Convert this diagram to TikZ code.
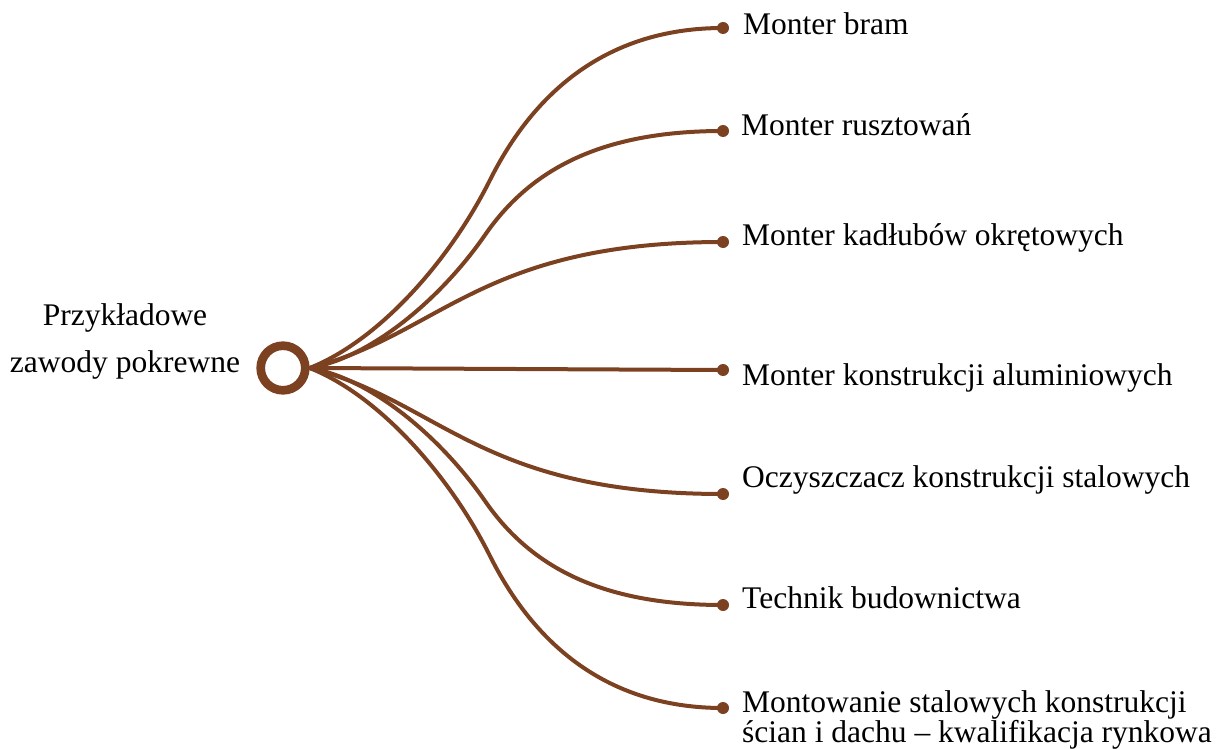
\documentclass[tikz,border=0pt]{standalone}
\usepackage{fontspec}
\setmainfont{Liberation Serif}
\definecolor{rust}{RGB}{123,65,32}

\begin{document}
\begin{tikzpicture}[x=1pt, y=-1pt,
    hub/.style = {draw=rust, circle, line width=8.7pt, minimum size=44.6pt, inner sep=0pt},
    tip/.style = {fill=rust, circle, minimum size=12pt, inner sep=0pt},
    job/.style = {anchor=base west, inner sep=0pt, align=left, font=\fontsize{31.5}{30}\selectfont},
    link/.style = {draw=rust, line width=4pt}]
        \useasboundingbox (0,0) rectangle (1221,749);

        \node[hub] (H) at (283,368) {};
        \node[anchor=base, align=center, inner sep=0pt, font=\fontsize{31.5}{47}\selectfont] (zaw) at (125,372) {Przykładowe\\zawody pokrewne};

        \node[tip] (T1) at (723,28) {};
        \node[tip] (T2) at (723,131) {};
        \node[tip] (T3) at (723,242) {};
        \node[tip] (T4) at (723,370) {};
        \node[tip] (T5) at (723,494) {};
        \node[tip] (T6) at (723,605) {};
        \node[tip] (T7) at (723,708) {};

        \node[job] (J1) at (743,35) {Monter bram};
        \node[job] (J2) at (741,136) {Monter rusztowań};
        \node[job] (J3) at (742,245) {Monter kadłubów okrętowych};
        \node[job] (J4) at (742,385) {Monter konstrukcji aluminiowych};
        \node[job] (J5) at (742,487) {Oczyszczacz konstrukcji stalowych};
        \node[job] (J6) at (742,608) {Technik budownictwa};
        \node[job] (J7) at (742,742) {Montowanie stalowych konstrukcji\\ścian i dachu – kwalifikacja rynkowa};

        \draw[link] (H.east) .. controls (380,340) and (450,260) .. (490,180) .. controls (530,100) and (600,28) .. (T1.center);
        \draw[link] (H.east) .. controls (370,358) and (440,300) .. (485,235) .. controls (530,170) and (600,131) .. (T2.center);
        \draw[link] (H.east) .. controls (440,335) and (480,242) .. (T3.center);
        \draw[link] (H.east) -- (T4.center);
        \draw[link] (H.east) .. controls (440,401) and (480,494) .. (T5.center);
        \draw[link] (H.east) .. controls (370,378) and (440,436) .. (485,501) .. controls (530,566) and (600,605) .. (T6.center);
        \draw[link] (H.east) .. controls (380,396) and (450,476) .. (490,556) .. controls (530,636) and (600,708) .. (T7.center);
    \end{tikzpicture}
\end{document}
